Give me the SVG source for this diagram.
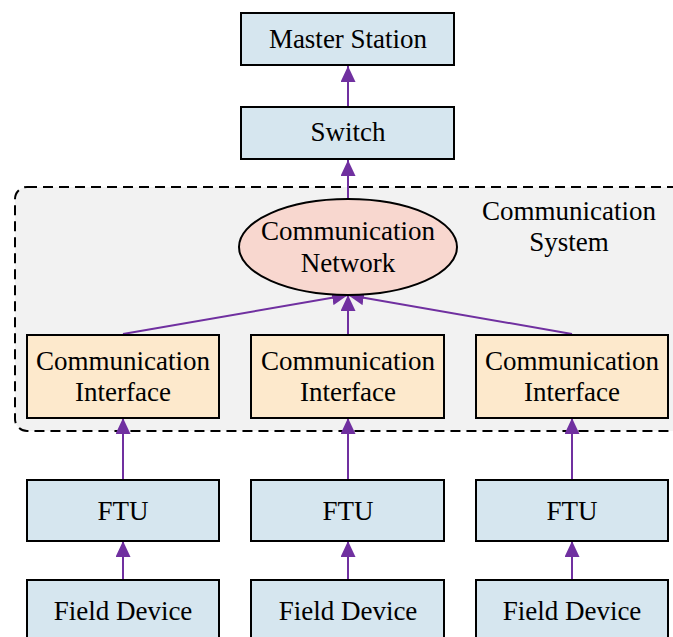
<svg xmlns="http://www.w3.org/2000/svg" width="673" height="637" viewBox="0 0 673 637">
<defs>
<style>
.box{fill:#d6e6ef;stroke:#000;stroke-width:2}
.ci{fill:#fde9cc;stroke:#000;stroke-width:2}
.t{font-size:27px;fill:#000;text-anchor:middle}
.c{stroke:#7030a0;stroke-width:2;fill:none;marker-end:url(#ah)}
</style>
<marker id="ah" viewBox="0 0 16 15" refX="16" refY="7.5" markerWidth="16" markerHeight="15" markerUnits="userSpaceOnUse" orient="auto">
<path d="M0,0 L16,7.5 L0,15 Z" fill="#7030a0"/>
</marker>
</defs>
<rect width="673" height="637" fill="#fff"/>
<g font-family="'Liberation Serif', 'Times New Roman', Times, serif">
<g id="container">
<rect x="15" y="187" width="672" height="244" rx="12" ry="12" fill="#f2f2f2" stroke="#000" stroke-width="2" stroke-dasharray="10,6"/>
<text class="t" x="569" y="220">Communication</text>
<text class="t" x="569" y="251">System</text>
</g>
<g id="connectors">
<line class="c" x1="348" y1="107" x2="348" y2="66"/>
<line class="c" x1="348" y1="200" x2="348" y2="160"/>
<line class="c" x1="123" y1="334" x2="348" y2="295"/>
<line class="c" x1="348" y1="334" x2="348" y2="295"/>
<line class="c" x1="572" y1="334" x2="348" y2="295"/>
<line class="c" x1="123" y1="480" x2="123" y2="418"/>
<line class="c" x1="348" y1="480" x2="348" y2="418"/>
<line class="c" x1="572" y1="480" x2="572" y2="418"/>
<line class="c" x1="123" y1="580" x2="123" y2="541"/>
<line class="c" x1="348" y1="580" x2="348" y2="541"/>
<line class="c" x1="572" y1="580" x2="572" y2="541"/>
</g>
<g id="master"><rect class="box" x="241" y="13" width="213" height="52"/><text class="t" x="348" y="48">Master Station</text></g>
<g id="switch"><rect class="box" x="241" y="107" width="213" height="52"/><text class="t" x="348" y="141">Switch</text></g>
<g id="network"><ellipse cx="348" cy="247" rx="109" ry="48" fill="#f8d7cf" stroke="#000" stroke-width="2"/><text class="t" x="348" y="240">Communication</text><text class="t" x="348" y="272">Network</text></g>
<g id="ci1"><rect class="ci" x="27" y="335" width="192" height="83"/><text class="t" x="123" y="370">Communication</text><text class="t" x="123" y="401">Interface</text></g>
<g id="ci2"><rect class="ci" x="251" y="335" width="193" height="83"/><text class="t" x="348" y="370">Communication</text><text class="t" x="348" y="401">Interface</text></g>
<g id="ci3"><rect class="ci" x="476" y="335" width="192" height="83"/><text class="t" x="572" y="370">Communication</text><text class="t" x="572" y="401">Interface</text></g>
<g id="ftu1"><rect class="box" x="27" y="480" width="192" height="61"/><text class="t" x="123" y="520">FTU</text></g>
<g id="ftu2"><rect class="box" x="251" y="480" width="193" height="61"/><text class="t" x="348" y="520">FTU</text></g>
<g id="ftu3"><rect class="box" x="476" y="480" width="192" height="61"/><text class="t" x="572" y="520">FTU</text></g>
<g id="fd1"><rect class="box" x="27" y="580" width="192" height="70"/><text class="t" x="123" y="620">Field Device</text></g>
<g id="fd2"><rect class="box" x="251" y="580" width="193" height="70"/><text class="t" x="348" y="620">Field Device</text></g>
<g id="fd3"><rect class="box" x="476" y="580" width="192" height="70"/><text class="t" x="572" y="620">Field Device</text></g>
</g>
</svg>
